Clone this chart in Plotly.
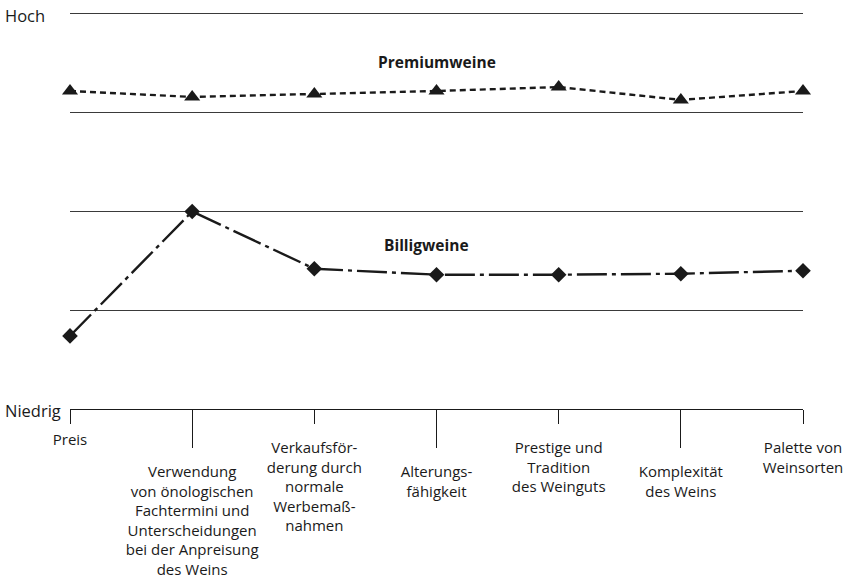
import plotly.graph_objects as go

categories = ["Preis",
              "Verwendung<br>von önologischen<br>Fachtermini und<br>Unterscheidungen<br>bei der Anpreisung<br>des Weins",
              "Verkaufsför-<br>derung durch<br>normale<br>Werbemaß-<br>nahmen",
              "Alterungs-<br>fähigkeit",
              "Prestige und<br>Tradition<br>des Weinguts",
              "Komplexität<br>des Weins",
              "Palette von<br>Weinsorten"]
x_pos = [0, 1, 2, 3, 4, 5, 6]
premium = [3.22, 3.16, 3.19, 3.22, 3.26, 3.13, 3.22]
billig = [0.74, 2.00, 1.42, 1.36, 1.36, 1.37, 1.40]
level_vals = [0, 1, 2, 3, 4]
level_text = ["Niedrig", "", "", "", "Hoch"]

FONT = "Open Sans"
INK = "#1a1a1a"
FS = 15

fig = go.Figure()
fig.add_trace(go.Scatter(x=x_pos, y=premium, mode="lines+markers",
                         line=dict(color=INK, width=2.4, dash="6px,4px"),
                         marker=dict(symbol="triangle-up", size=14, color=INK),
                         cliponaxis=False, showlegend=False, hoverinfo="skip"))
fig.add_trace(go.Scatter(x=x_pos, y=billig, mode="lines+markers",
                         line=dict(color=INK, width=2.4, dash="30px,5px,4px,5px"),
                         marker=dict(symbol="diamond", size=12, color=INK),
                         cliponaxis=False, showlegend=False, hoverinfo="skip"))
# dummy traces so the extra x-axes render
fig.add_trace(go.Scatter(x=[x_pos[0], x_pos[-1]], y=[None, None], xaxis="x2",
                         mode="lines", showlegend=False, hoverinfo="skip"))
fig.add_trace(go.Scatter(x=[x_pos[0], x_pos[-1]], y=[None, None], xaxis="x3",
                         mode="lines", showlegend=False, hoverinfo="skip"))

first_idx = [0]
short_idx = [0, 2, 4, 6]
short_lbl_idx = [2, 4, 6]
long_idx = [1, 3, 5]

fig.update_layout(
    width=849, height=583, autosize=False,
    margin=dict(l=70, r=46, t=12, b=174, autoexpand=False),
    paper_bgcolor="white", plot_bgcolor="white",
    font=dict(family=FONT, size=FS, color=INK),
    xaxis=dict(range=[0, 6], tickvals=[x_pos[i] for i in short_idx],
               ticktext=[categories[i] if i in first_idx else "" for i in short_idx],
               ticks="outside", ticklen=14, tickcolor=INK, tickwidth=1,
               ticklabelstandoff=3, automargin=False,
               showline=True, linecolor=INK, linewidth=1,
               showgrid=False, zeroline=False, tickfont=dict(size=FS, color=INK)),
    xaxis3=dict(range=[0, 6], overlaying="x", anchor="y", side="bottom",
                tickvals=[x_pos[i] for i in short_lbl_idx],
                ticktext=[categories[i] for i in short_lbl_idx],
                ticks="outside", ticklen=14, tickcolor="rgba(0,0,0,0)", tickwidth=1,
                ticklabelstandoff=11, automargin=False,
                showline=False, showgrid=False, zeroline=False,
                tickfont=dict(size=FS, color=INK)),
    xaxis2=dict(range=[0, 6], overlaying="x", anchor="y", side="bottom",
                tickvals=[x_pos[i] for i in long_idx],
                ticktext=[categories[i] for i in long_idx],
                ticks="outside", ticklen=38, tickcolor=INK, tickwidth=1,
                ticklabelstandoff=11, automargin=False,
                showline=False, showgrid=False, zeroline=False,
                tickfont=dict(size=FS, color=INK)),
    yaxis=dict(range=[0, 4.02], tickvals=level_vals[1:], showticklabels=False,
               showgrid=True, gridcolor="#3a3a3a", gridwidth=1, automargin=False,
               zeroline=False, showline=False, ticks=""),
    annotations=[
        dict(x=0, xref="paper", y=level_vals[-1], yref="y", text=level_text[-1],
             showarrow=False, xanchor="right", xshift=-23, yshift=-2,
             font=dict(size=16.5, color=INK)),
        dict(x=0, xref="paper", y=level_vals[0], yref="y", text=level_text[0],
             showarrow=False, xanchor="right", xshift=-7, yshift=-1,
             font=dict(size=16.5, color=INK)),
        dict(x=3, y=3.51, text="<b>Premiumweine</b>", showarrow=False,
             font=dict(size=15.5, color=INK)),
        dict(x=2.92, y=1.66, text="<b>Billigweine</b>", showarrow=False,
             font=dict(size=15.5, color=INK)),
    ],
)

fig.write_html("out.html",
               config={"displayModeBar": False, "responsive": False, "staticPlot": True},
               post_script="document.body.style.margin='0';document.body.style.overflow='hidden';")
